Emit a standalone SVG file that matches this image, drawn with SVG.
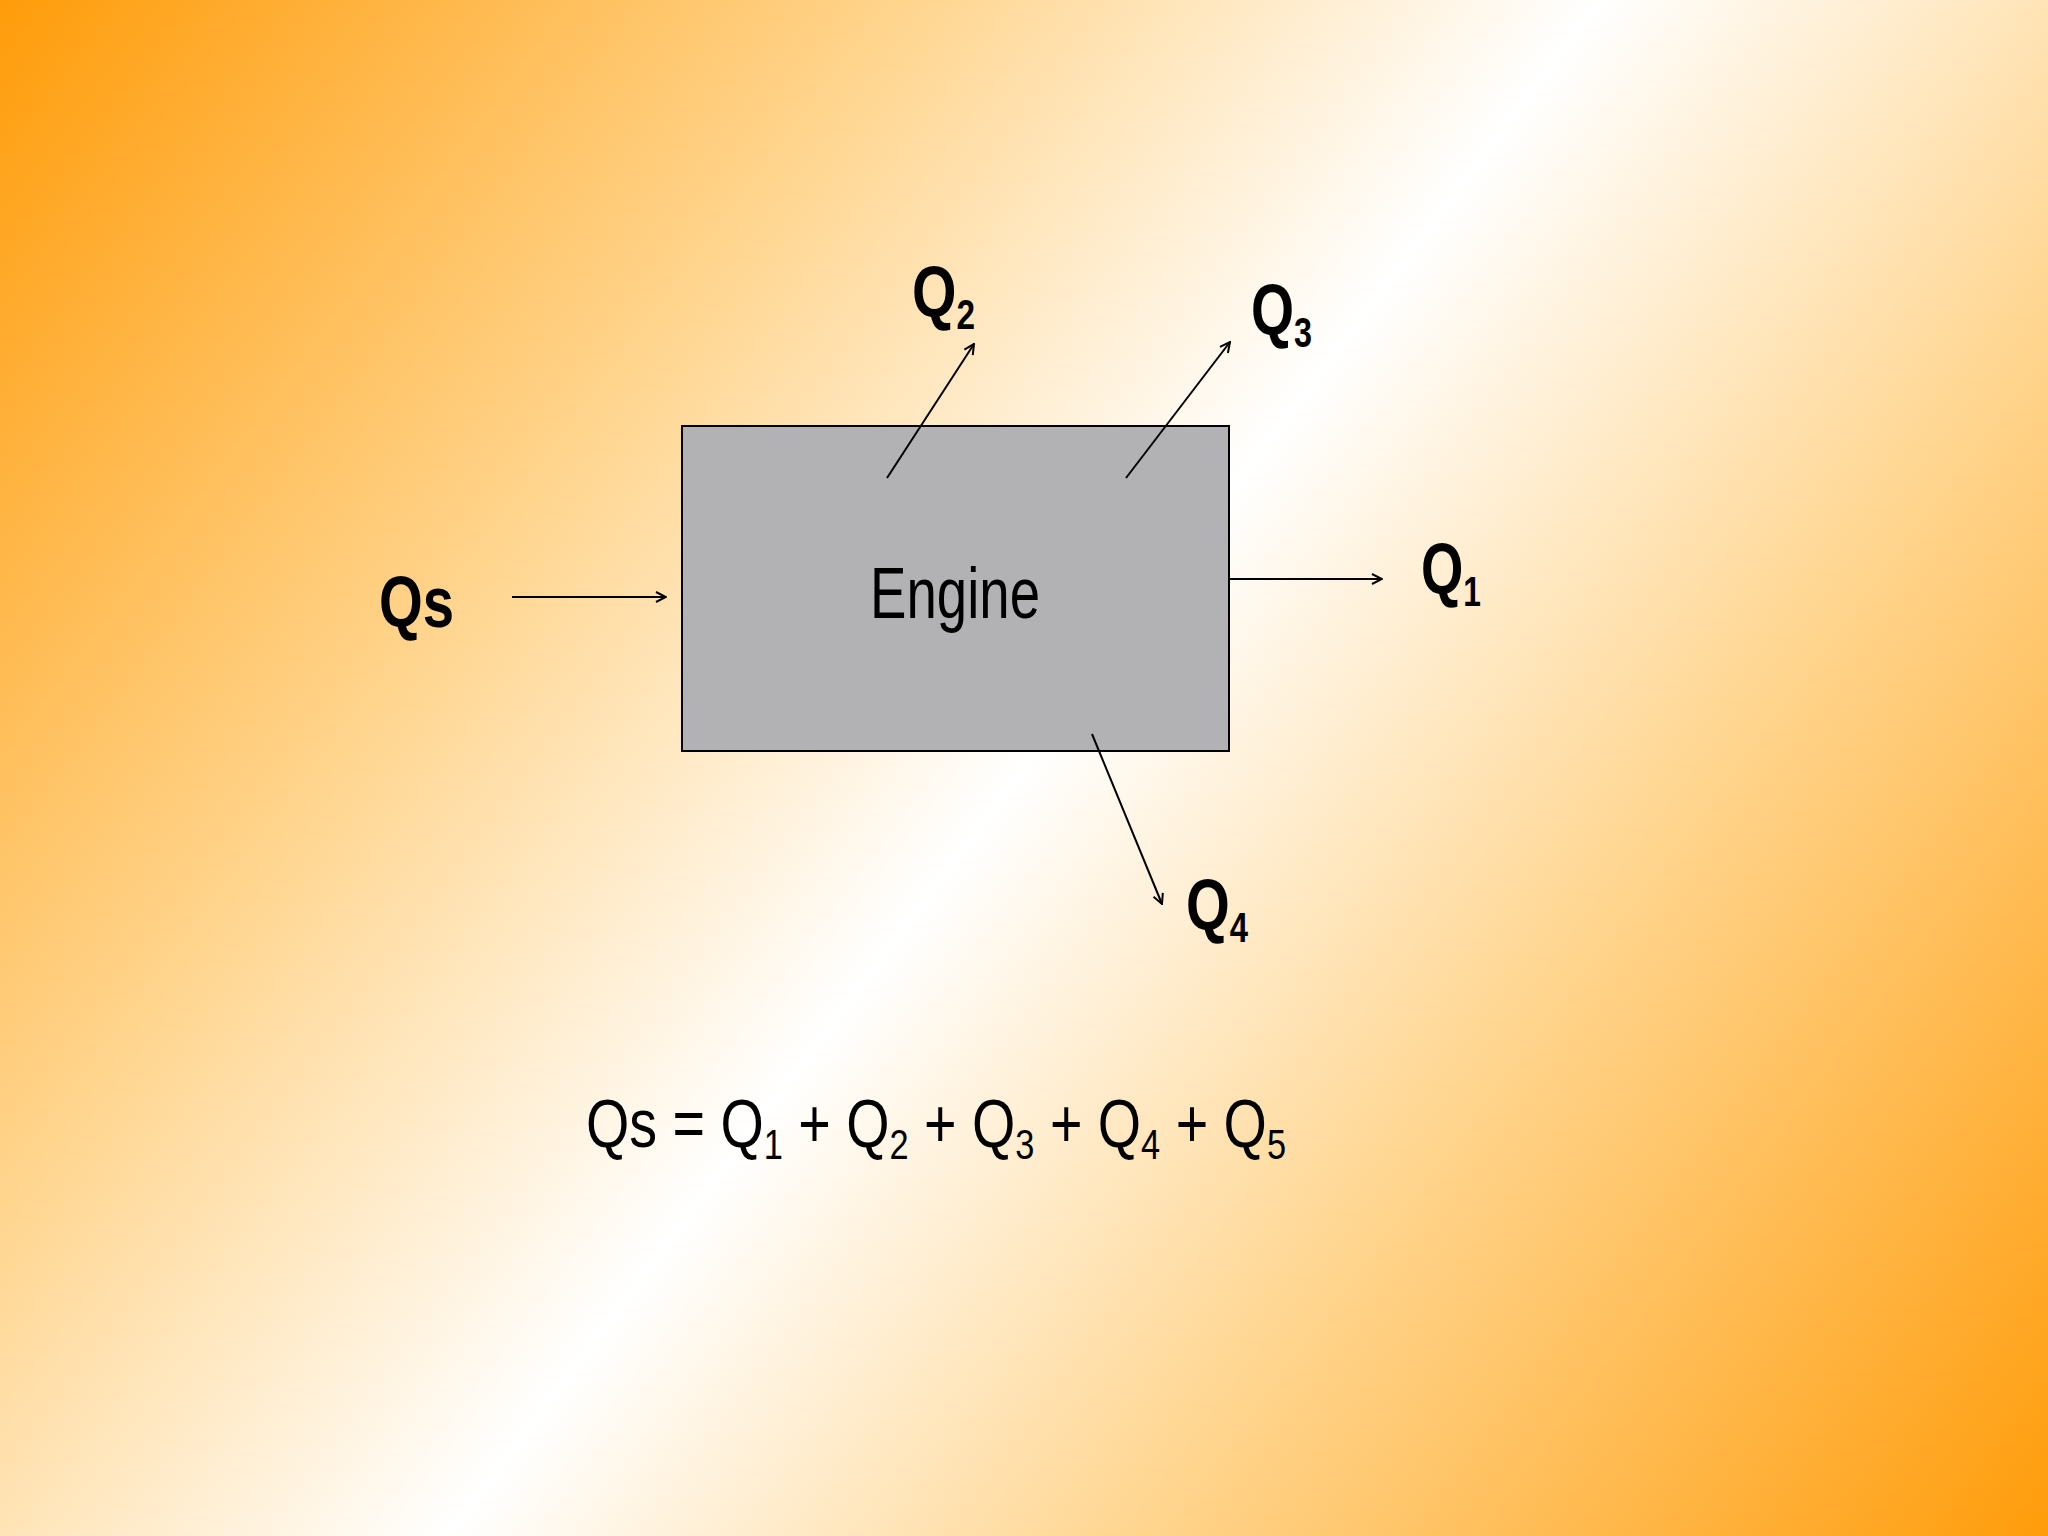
<svg xmlns="http://www.w3.org/2000/svg" width="2048" height="1536" viewBox="0 0 2048 1536">
<defs>
<linearGradient id="bg" gradientUnits="userSpaceOnUse" x1="0" y1="0" x2="2048" y2="1536">
<stop offset="0" stop-color="#FF9C0A"/>
<stop offset="0.28" stop-color="#FFD48C"/>
<stop offset="0.5" stop-color="#FFFFFF"/>
<stop offset="0.72" stop-color="#FFD48C"/>
<stop offset="1" stop-color="#FF9C0A"/>
</linearGradient>
<marker id="ah" viewBox="0 0 12 12" refX="11" refY="6" markerWidth="12" markerHeight="12" markerUnits="userSpaceOnUse" orient="auto">
<path d="M1,1 L11,6 L1,11" fill="none" stroke="#000" stroke-width="2"/>
</marker>
<style>
.lbl{font-family:"Liberation Sans",Arial,sans-serif;font-weight:bold;font-size:72px;fill:#000}
.sub{font-size:42px}
.c{stroke:#000;stroke-width:2;fill:none;marker-end:url(#ah)}
</style>
</defs>
<rect width="2048" height="1536" fill="url(#bg)"/>
<g id="engine">
<rect x="682" y="426" width="547" height="325" fill="#B2B1B3" stroke="#000" stroke-width="2"/>
<text x="955" y="618" text-anchor="middle" font-family="Liberation Sans,Arial,sans-serif" font-size="72" textLength="170" lengthAdjust="spacingAndGlyphs">Engine</text>
</g>
<g id="connectors">
<line class="c" x1="512" y1="597" x2="666" y2="597"/>
<line class="c" x1="1229" y1="579" x2="1382" y2="579"/>
<line class="c" x1="887" y1="478" x2="974" y2="344"/>
<line class="c" x1="1126" y1="478" x2="1230" y2="342"/>
<line class="c" x1="1092" y1="734" x2="1162" y2="904"/>
</g>
<g id="Qs"><text class="lbl" x="379" y="627" textLength="75" lengthAdjust="spacingAndGlyphs">Qs</text></g>
<g id="Q1"><text class="lbl" x="1421" y="594" textLength="60" lengthAdjust="spacingAndGlyphs">Q<tspan class="sub" dy="12">1</tspan></text></g>
<g id="Q2"><text class="lbl" x="912" y="317" textLength="63" lengthAdjust="spacingAndGlyphs">Q<tspan class="sub" dy="12">2</tspan></text></g>
<g id="Q3"><text class="lbl" x="1251" y="335" textLength="61" lengthAdjust="spacingAndGlyphs">Q<tspan class="sub" dy="12">3</tspan></text></g>
<g id="Q4"><text class="lbl" x="1186" y="930" textLength="62" lengthAdjust="spacingAndGlyphs">Q<tspan class="sub" dy="12">4</tspan></text></g>
<g id="equation">
<text x="586" y="1147" font-family="Liberation Sans,Arial,sans-serif" font-size="68" textLength="700" lengthAdjust="spacingAndGlyphs">Qs = Q<tspan font-size="42" dy="12">1</tspan><tspan dy="-12"> + Q</tspan><tspan font-size="42" dy="12">2</tspan><tspan dy="-12"> + Q</tspan><tspan font-size="42" dy="12">3</tspan><tspan dy="-12"> + Q</tspan><tspan font-size="42" dy="12">4</tspan><tspan dy="-12"> + Q</tspan><tspan font-size="42" dy="12">5</tspan></text>
</g>
</svg>
